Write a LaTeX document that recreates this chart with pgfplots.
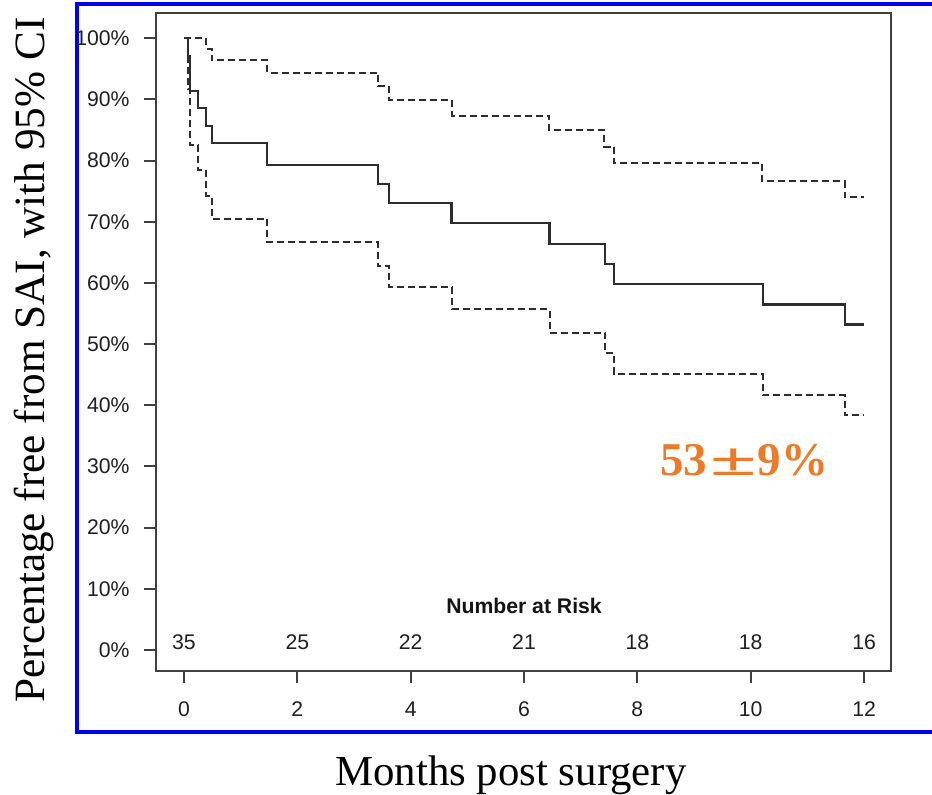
\documentclass[border=0pt]{standalone}
\usepackage{fontspec}
\setmainfont{Liberation Sans}
\newfontfamily\timesfont{Liberation Serif}
\usepackage{graphicx}
\usepackage{pgfplots}
\pgfplotsset{compat=1.18}
\definecolor{kmline}{RGB}{45,45,45}
\definecolor{boxgray}{RGB}{64,64,64}
\definecolor{frameblue}{RGB}{0,0,240}
\definecolor{annot}{RGB}{237,122,40}

\begin{document}
\begin{tikzpicture}[x=1pt,y=1pt]
\draw[frameblue, line width=2pt] (38.65,31.15) rectangle (480,394.75);
\begin{axis}[
  at={(78pt,61.5pt)}, anchor=south west,
  scale only axis, width=367.35pt, height=328.85pt,
  xmin=-0.494, xmax=12.47, ymin=-3.433, ymax=104.09,
  axis line style={boxgray, line width=1pt},
  tick style={boxgray, line width=1pt},
  tick align=outside, tick pos=left,
  major tick length=6pt,
  xtick={0,2,4,6,8,10,12},
  xticklabels={0,2,4,6,8,10,12},
  ytick={0,10,20,30,40,50,60,70,80,90,100},
  yticklabels={0\%,10\%,20\%,30\%,40\%,50\%,60\%,70\%,80\%,90\%,100\%},
  ticklabel style={font=\fontsize{10.6}{12}\selectfont, text=black!88},
  yticklabel style={anchor=east, inner sep=0pt, xshift=-7pt},
  xticklabel style={anchor=north, inner sep=0pt, yshift=-9.3pt},
  /pgf/number format/assume math mode=true,
  clip=false,
]
% Kaplan-Meier estimate
\addplot[const plot, kmline, line width=1.1pt] coordinates {
(0,100) (0.076,97.14) (0.106,91.43) (0.252,88.57) (0.388,85.71) (0.489,82.86)
(1.47,79.3) (3.42,76.2) (3.62,73.1) (4.72,69.8) (6.45,66.4) (7.43,63.1)
(7.59,59.8) (10.22,56.5) (11.66,53.2) (12.0,53.2)};
% upper 95% CI
\addplot[const plot, kmline, line width=1pt, dash pattern=on 3.5pt off 2pt] coordinates {
(0,100) (0.388,98.3) (0.489,96.4) (1.47,94.4) (3.43,92.2) (3.62,89.9)
(4.73,87.35) (6.44,85.0) (7.41,82.3) (7.59,79.6) (10.2,76.7) (11.66,74.0) (12.0,74.0)};
% lower 95% CI
\addplot[const plot, kmline, line width=1pt, dash pattern=on 3.5pt off 2pt] coordinates {
(0,100) (0.076,91.7) (0.106,82.5) (0.252,78.5) (0.388,74.3) (0.489,70.5)
(1.47,66.7) (3.42,62.8) (3.62,59.3) (4.73,55.7) (6.45,51.9) (7.43,48.5)
(7.59,45.1) (10.21,41.7) (11.66,38.4) (12.0,38.4)};
% number at risk
\addplot[draw=none, mark=none, nodes near coords, point meta=explicit symbolic,
  every node near coord/.append style={font=\fontsize{10.6}{12}\selectfont, inner sep=0pt, text=black!88}]
  coordinates {(0,0.01)[35] (2,0.01)[25] (4,0.01)[22] (6,0.01)[21] (8,0.01)[18] (10,0.01)[18] (12,0.01)[16]};
\node[font=\bfseries\fontsize{10.6}{12}\selectfont, anchor=base, inner sep=0pt, text=black!92] at (axis cs:6,5.9) {Number at Risk};
\end{axis}
\node[rotate=90, anchor=base, inner sep=0pt, font=\timesfont\fontsize{21.6}{26}\selectfont] at (22,217) {Percentage free from SAI, with 95\% CI};
\node[anchor=base, inner sep=0pt, font=\timesfont\fontsize{21.4}{26}\selectfont] at (255.5,4.5) {Months post surgery};
\node[anchor=base west, inner sep=0pt, text=annot, font=\timesfont\bfseries\fontsize{23.5}{28}\selectfont] at (330,159.5) {53\kern1.5pt\scalebox{1.8}[1]{±}\kern0.5pt9\%};
\pgfresetboundingbox
\useasboundingbox (0,0) rectangle (466,397);
\end{tikzpicture}
\end{document}
